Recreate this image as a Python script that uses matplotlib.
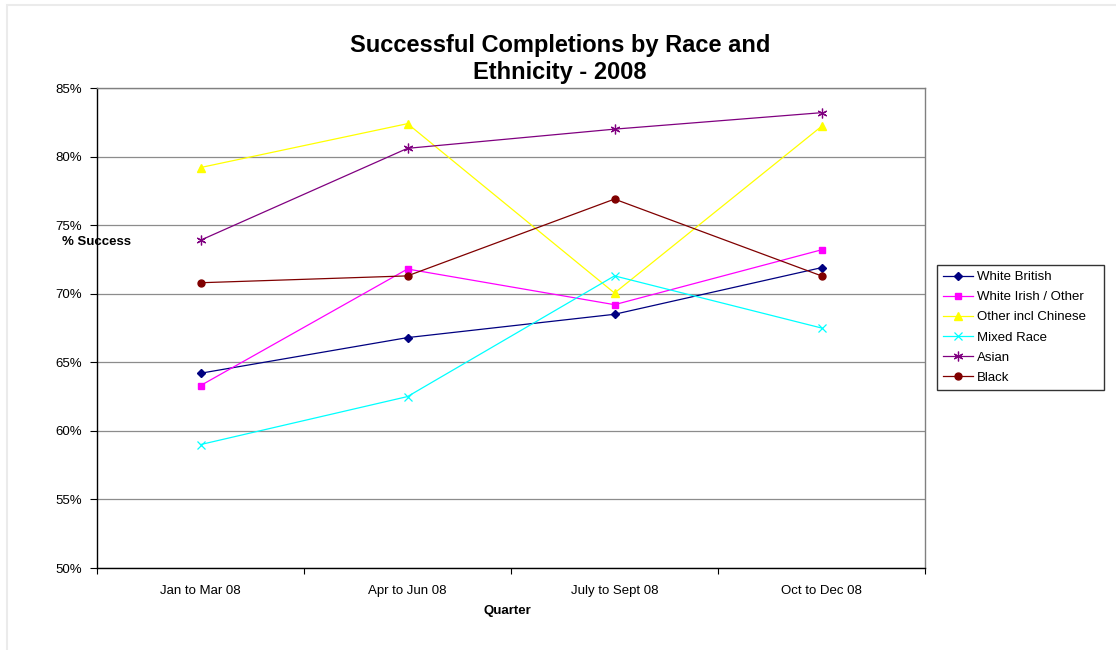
import matplotlib
matplotlib.use("Agg")
import matplotlib.pyplot as plt
from matplotlib.patches import Rectangle
from matplotlib.ticker import FuncFormatter, FixedLocator

plt.rcParams['font.family'] = ['Liberation Sans', 'DejaVu Sans']

quarters = ["Jan to Mar 08", "Apr to Jun 08", "July to Sept 08", "Oct to Dec 08"]
white_british = [64.2, 66.8, 68.5, 71.9]
white_irish_other = [63.3, 71.8, 69.2, 73.2]
other_incl_chinese = [79.2, 82.4, 70.05, 82.2]
mixed_race = [59.0, 62.5, 71.3, 67.5]
asian = [73.9, 80.6, 82.0, 83.2]
black = [70.8, 71.3, 76.9, 71.3]

series = [
    ("White British", white_british, "#000080", "D", 4.5),
    ("White Irish / Other", white_irish_other, "#FF00FF", "s", 4.5),
    ("Other incl Chinese", other_incl_chinese, "#FFFF00", "^", 6),
    ("Mixed Race", mixed_race, "#00FFFF", "x", 6),
    ("Asian", asian, "#800080", (6, 2, 0), 7),
    ("Black", black, "#800000", "o", 5),
]

W, H = 1116, 650
fig = plt.figure(figsize=(W / 100, H / 100), dpi=100)
fig.patch.set_facecolor("white")
# light outer frame
fig.add_artist(Rectangle((7 / W, -0.01), 1.02, 1 - 5 / H + 0.01, transform=fig.transFigure,
                         fill=False, edgecolor="#ebebeb", linewidth=1.5))

ax = fig.add_axes([97 / W, 1 - 568 / H, (925 - 97) / W, (568 - 88) / H])
x = list(range(len(quarters)))
for name, vals, color, marker, ms in series:
    kw = {}
    if marker in ("x", (6, 2, 0)):
        kw = dict(markeredgewidth=0.9)
    ax.plot(x, vals, color=color, marker=marker, markersize=ms, linewidth=0.9,
            label=name, markeredgecolor=color, markerfacecolor=color, **kw)

ax.set_xlim(-0.5, len(quarters) - 0.5)
ax.set_ylim(50, 85)
ax.set_yticks([50, 55, 60, 65, 70, 75, 80, 85])
ax.yaxis.set_major_formatter(FuncFormatter(lambda v, p: f"{v:.0f}%"))
ax.yaxis.grid(True, color="#8c8c8c", linewidth=0.9)
ax.set_axisbelow(True)

ax.set_xticks(x)
ax.set_xticklabels(quarters)
ax.xaxis.set_minor_locator(FixedLocator([i - 0.5 for i in range(len(quarters) + 1)]))
ax.tick_params(axis="x", which="major", length=0, pad=12, labelsize=9.5)
ax.tick_params(axis="x", which="minor", length=4, direction="out", width=0.8, color="#000000")
ax.tick_params(axis="y", which="major", length=5, direction="out", width=0.8, pad=5.5, labelsize=9.5)

for s in ["left", "bottom"]:
    ax.spines[s].set_color("#000000")
    ax.spines[s].set_linewidth(1.0)
for s in ["top", "right"]:
    ax.spines[s].set_color("#808080")
    ax.spines[s].set_linewidth(1.0)

fig.text(560 / W, 1 - 59 / H, "Successful Completions by Race and\nEthnicity - 2008",
         ha="center", va="center", fontsize=17, fontweight="bold", linespacing=1.2)
fig.text(97 / W, 1 - 242 / H, "% Success", ha="center", va="center", fontsize=9.5, fontweight="bold")
fig.text(507 / W, 1 - 611 / H, "Quarter", ha="center", va="center", fontsize=9.5, fontweight="bold")

leg = fig.legend(loc="upper left", bbox_to_anchor=(937 / W, 1 - 388 / H, 167 / W, 123 / H),
                 mode="expand", fontsize=9.5,
                 frameon=True, fancybox=False, edgecolor="#000000", borderpad=0.45,
                 labelspacing=0.6, handlelength=2.3, handletextpad=0.3, borderaxespad=0)
leg.get_frame().set_linewidth(1.0)

fig.savefig("out.png", dpi=100)
